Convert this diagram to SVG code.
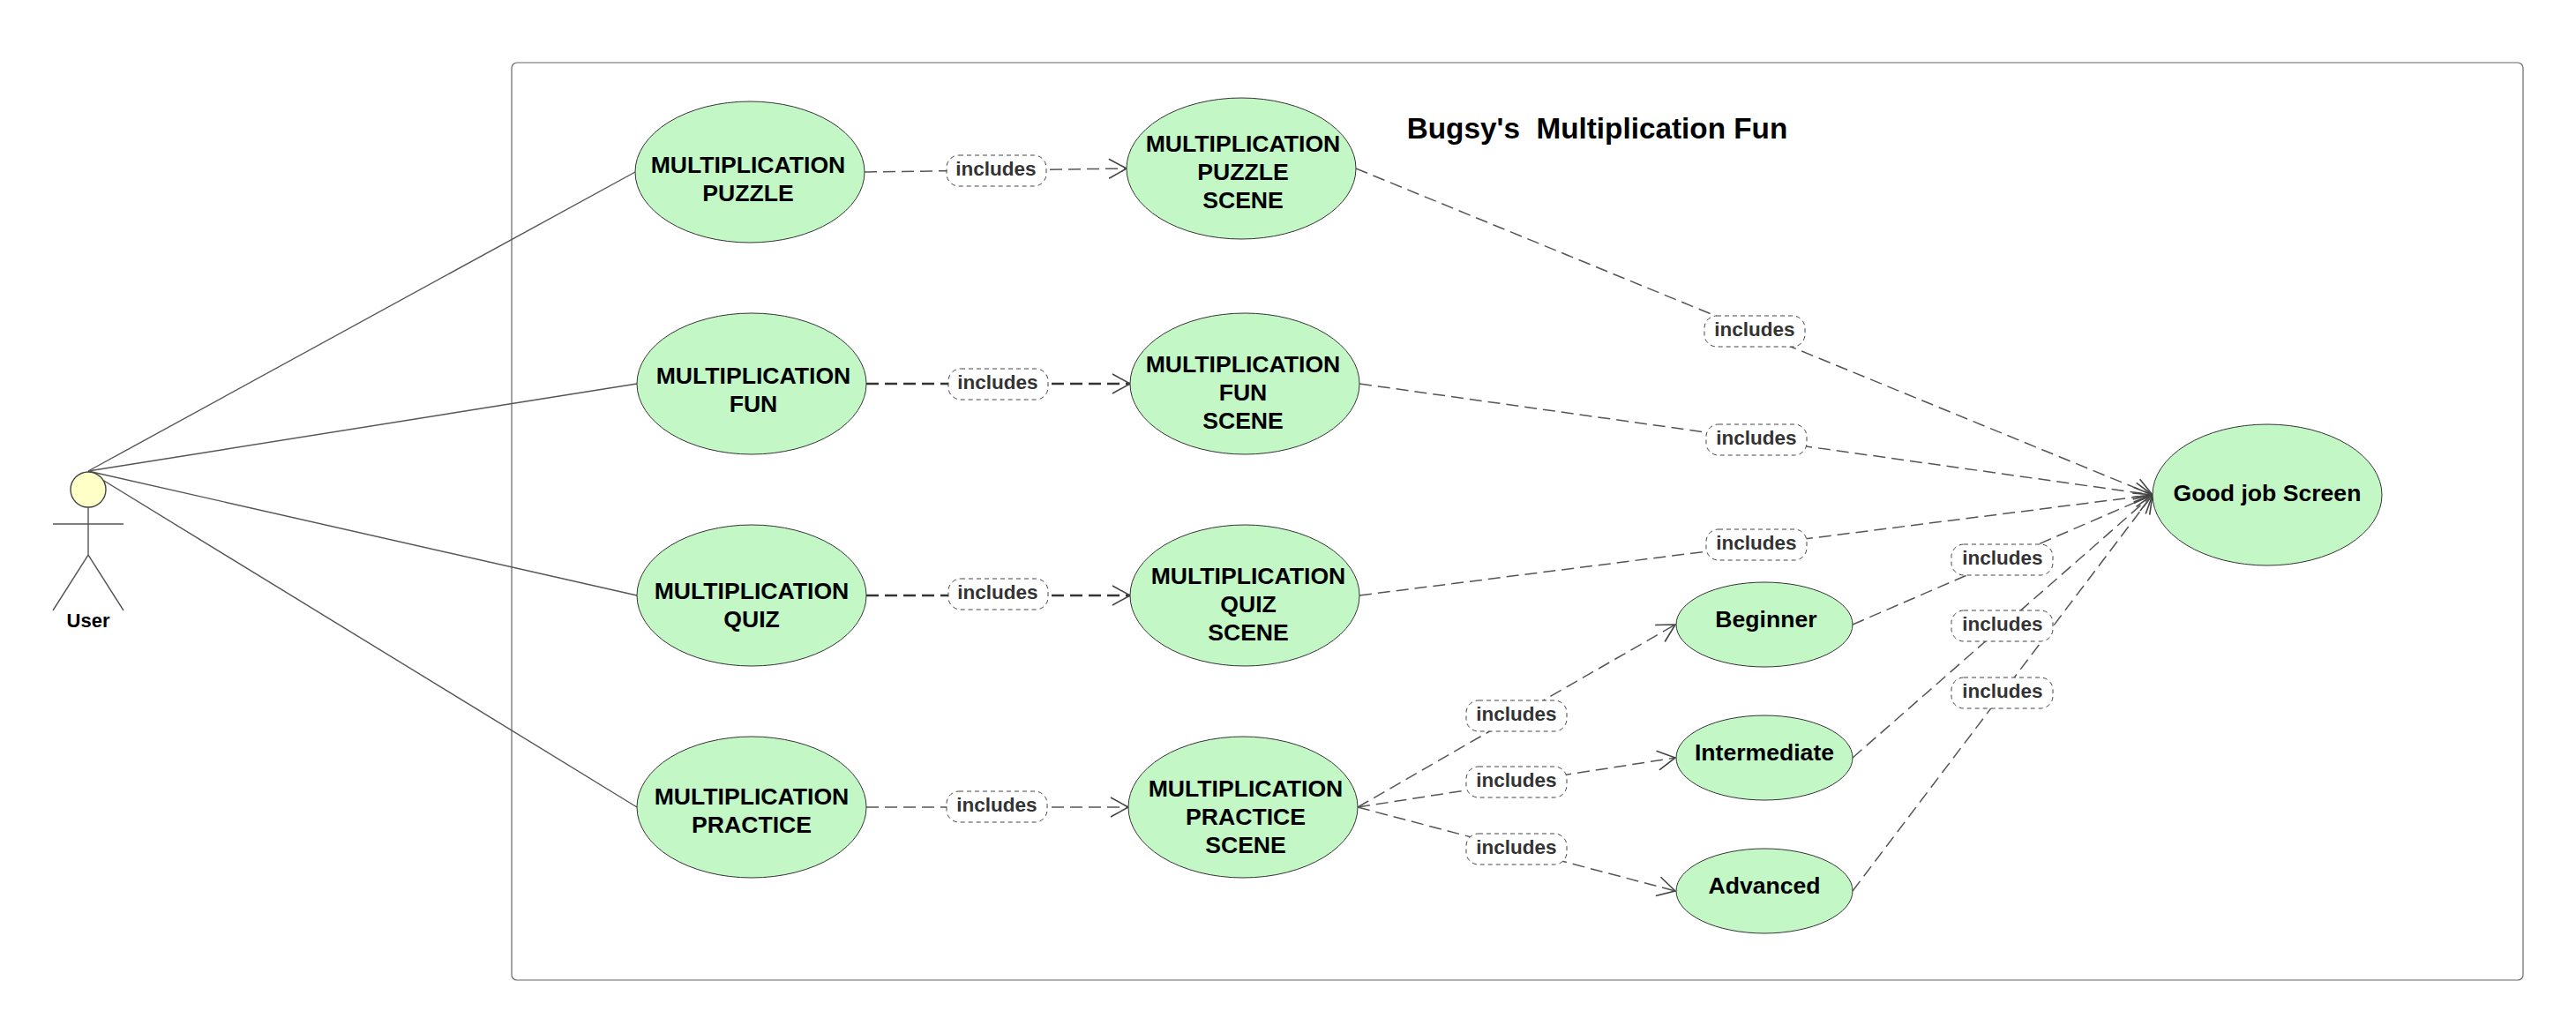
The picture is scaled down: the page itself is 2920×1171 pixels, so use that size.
<svg xmlns="http://www.w3.org/2000/svg" width="2920" height="1171" viewBox="0 0 2920 1171">
<style>
text{font-family:"Liberation Sans",Arial,sans-serif;font-weight:bold;text-anchor:middle;fill:#000}
.uc ellipse{fill:#c3f7c6;stroke:#333;stroke-width:1}
.uc text{font-size:26.6px}
.assoc{stroke:#555;stroke-width:1.4;fill:none}
.dep{stroke:#555;stroke-width:1.5;fill:none;stroke-dasharray:14 7;marker-end:url(#open)}
.dep.dark{stroke:#333;stroke-width:2.3}
.pill rect{fill:#fff;stroke:#444;stroke-width:1;stroke-dasharray:5 4}
.pill text{font-size:22.5px;fill:#333}
</style>
<defs>
<marker id="open" markerUnits="userSpaceOnUse" markerWidth="30" markerHeight="30" refX="22" refY="13" orient="auto" overflow="visible"><path d="M2,2 L22,13 L2,24" fill="none" stroke="#444" stroke-width="1.6"/></marker>
</defs>
<rect id="frame" x="580" y="71" width="2280" height="1040" rx="6" fill="#fff" stroke="#666" stroke-width="1.2"/>
<text id="title" x="1810.5" y="157" style="font-size:33.3px;white-space:pre">Bugsy's  Multiplication Fun</text>
<g id="connectors">
<line class="assoc" x1="100" y1="534" x2="720" y2="195"/>
<line class="assoc" x1="100" y1="534" x2="722" y2="435"/>
<line class="assoc" x1="100" y1="534" x2="722" y2="675"/>
<line class="assoc" x1="100" y1="534" x2="722" y2="915"/>
<line class="dep" x1="980" y1="195" x2="1277" y2="191"/>
<line class="dep dark" x1="982" y1="435" x2="1281" y2="435"/>
<line class="dep dark" x1="982" y1="675" x2="1281" y2="675"/>
<line class="dep" x1="982" y1="915" x2="1279" y2="915"/>
<line class="dep" x1="1537" y1="191" x2="2440" y2="561"/>
<line class="dep" x1="1541" y1="435" x2="2440" y2="561"/>
<line class="dep" x1="1541" y1="675" x2="2440" y2="561"/>
<line class="dep" x1="2100" y1="708" x2="2440" y2="561"/>
<line class="dep" x1="2100" y1="859" x2="2440" y2="561"/>
<line class="dep" x1="2100" y1="1010" x2="2440" y2="561"/>
<line class="dep" x1="1539" y1="915" x2="1899" y2="708"/>
<line class="dep" x1="1539" y1="915" x2="1899" y2="859"/>
<line class="dep" x1="1539" y1="915" x2="1899" y2="1010"/>
<g class="pill"><rect x="1073" y="176" width="113" height="35" rx="14"/><text x="1129" y="199">includes</text></g>
<g class="pill"><rect x="1075" y="418" width="113" height="35" rx="14"/><text x="1131" y="441">includes</text></g>
<g class="pill"><rect x="1075" y="656" width="113" height="35" rx="14"/><text x="1131" y="679">includes</text></g>
<g class="pill"><rect x="1073" y="897" width="114" height="35" rx="14"/><text x="1130" y="920">includes</text></g>
<g class="pill"><rect x="1932" y="358" width="114" height="35" rx="14"/><text x="1989" y="381">includes</text></g>
<g class="pill"><rect x="1934" y="481" width="114" height="35" rx="14"/><text x="1991" y="504">includes</text></g>
<g class="pill"><rect x="1934" y="600" width="114" height="35" rx="14"/><text x="1991" y="623">includes</text></g>
<g class="pill"><rect x="2212" y="617" width="115" height="35" rx="14"/><text x="2270" y="640">includes</text></g>
<g class="pill"><rect x="2212" y="692" width="115" height="35" rx="14"/><text x="2270" y="715">includes</text></g>
<g class="pill"><rect x="2212" y="768" width="115" height="35" rx="14"/><text x="2270" y="791">includes</text></g>
<g class="pill"><rect x="1662" y="794" width="114" height="35" rx="14"/><text x="1719" y="817">includes</text></g>
<g class="pill"><rect x="1662" y="869" width="114" height="35" rx="14"/><text x="1719" y="892">includes</text></g>
<g class="pill"><rect x="1662" y="945" width="114" height="35" rx="14"/><text x="1719" y="968">includes</text></g>
</g>
<g id="actor-user">
<circle cx="100" cy="555" r="20" fill="#ffffc8" stroke="#444" stroke-width="1.4"/>
<path d="M100,575 V629 M60,594 H140 M60,692 L100,629 L140,692" fill="none" stroke="#555" stroke-width="1.4"/>
<text x="100" y="711" style="font-size:22px">User</text>
</g>
<g id="uc-puzzle" class="uc"><ellipse cx="850" cy="195" rx="130" ry="80"/><text x="848" y="196">MULTIPLICATION</text><text x="848" y="228">PUZZLE</text></g>
<g id="uc-puzzle-scene" class="uc"><ellipse cx="1407" cy="191" rx="130" ry="80"/><text x="1409" y="172">MULTIPLICATION</text><text x="1409" y="204">PUZZLE</text><text x="1409" y="236">SCENE</text></g>
<g id="uc-fun" class="uc"><ellipse cx="852" cy="435" rx="130" ry="80"/><text x="854" y="435">MULTIPLICATION</text><text x="854" y="467">FUN</text></g>
<g id="uc-fun-scene" class="uc"><ellipse cx="1411" cy="435" rx="130" ry="80"/><text x="1409" y="422">MULTIPLICATION</text><text x="1409" y="454">FUN</text><text x="1409" y="486">SCENE</text></g>
<g id="uc-quiz" class="uc"><ellipse cx="852" cy="675" rx="130" ry="80"/><text x="852" y="679">MULTIPLICATION</text><text x="852" y="711">QUIZ</text></g>
<g id="uc-quiz-scene" class="uc"><ellipse cx="1411" cy="675" rx="130" ry="80"/><text x="1415" y="662">MULTIPLICATION</text><text x="1415" y="694">QUIZ</text><text x="1415" y="726">SCENE</text></g>
<g id="uc-practice" class="uc"><ellipse cx="852" cy="915" rx="130" ry="80"/><text x="852" y="912">MULTIPLICATION</text><text x="852" y="944">PRACTICE</text></g>
<g id="uc-practice-scene" class="uc"><ellipse cx="1409" cy="915" rx="130" ry="80"/><text x="1412" y="903">MULTIPLICATION</text><text x="1412" y="935">PRACTICE</text><text x="1412" y="967">SCENE</text></g>
<g id="uc-beginner" class="uc"><ellipse cx="2000" cy="708" rx="100" ry="48"/><text x="2002" y="711">Beginner</text></g>
<g id="uc-intermediate" class="uc"><ellipse cx="2000" cy="859" rx="100" ry="48"/><text x="2000" y="862">Intermediate</text></g>
<g id="uc-advanced" class="uc"><ellipse cx="2000" cy="1010" rx="100" ry="48"/><text x="2000" y="1013">Advanced</text></g>
<g id="uc-goodjob" class="uc"><ellipse cx="2570" cy="561" rx="130" ry="80"/><text x="2570" y="568">Good job Screen</text></g>
</svg>
